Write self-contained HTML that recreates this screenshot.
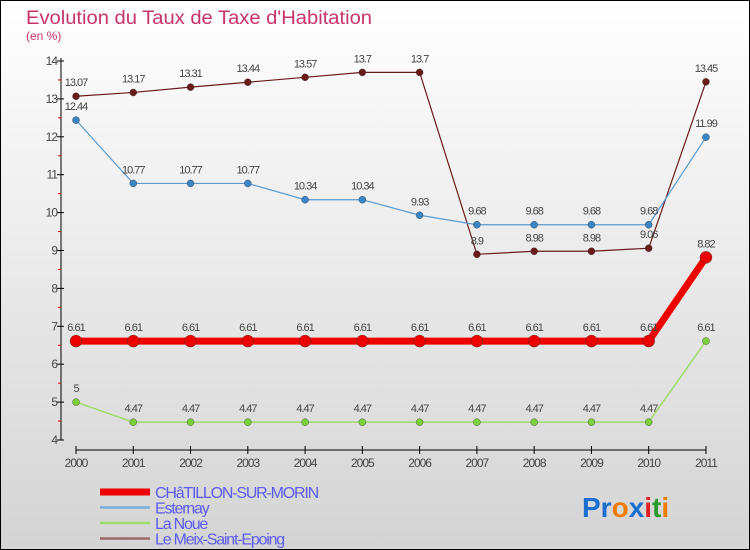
<!DOCTYPE html>
<html><head><meta charset="utf-8"><style>
body{margin:0}
svg{display:block;font-family:"Liberation Sans",sans-serif}
</style></head><body>
<svg id="c" width="750" height="550">
<defs><linearGradient id="bg" x1="0" y1="0" x2="0" y2="1"><stop offset="0" stop-color="#ffffff"/><stop offset="1" stop-color="#d4d4d4"/></linearGradient></defs>
<rect x="0.5" y="0.5" width="749" height="549" fill="url(#bg)" stroke="#000"/>
<text x="26" y="24" font-size="19" fill="#c8336a" textLength="346" lengthAdjust="spacingAndGlyphs">Evolution du Taux de Taxe d'Habitation</text>
<text x="26" y="40" font-size="12" fill="#c8336a">(en %)</text>
<g id="axes"></g><g id="series"></g><g id="legend"></g>
<text x="582" y="517" font-size="28" font-weight="bold"><tspan fill="#1a6fd0">Pr</tspan><tspan fill="#f07d00">o</tspan><tspan fill="#1a6fd0">x</tspan><tspan fill="#e02020">i</tspan><tspan fill="#2a9a2a">t</tspan><tspan fill="#f07d00">i</tspan></text>
</svg>
<script>
const years=[2000,2001,2002,2003,2004,2005,2006,2007,2008,2009,2010,2011];
const yTicks=[4,5,6,7,8,9,10,11,12,13,14];
const chatillon=[6.61,6.61,6.61,6.61,6.61,6.61,6.61,6.61,6.61,6.61,6.61,8.82];
const esternay=[12.44,10.77,10.77,10.77,10.34,10.34,9.93,9.68,9.68,9.68,9.68,11.99];
const laNoue=[5,4.47,4.47,4.47,4.47,4.47,4.47,4.47,4.47,4.47,4.47,6.61];
const meix=[13.07,13.17,13.31,13.44,13.57,13.7,13.7,8.9,8.98,8.98,9.06,13.45];
const names=['CHâTILLON-SUR-MORIN','Esternay','La Noue','Le Meix-Saint-Epoing'];
const NS='http://www.w3.org/2000/svg';
const X=i=>76+i*57.27, Y=v=>440-(v-4)*37.9;
function mk(t,a,p){const e=document.createElementNS(NS,t);for(const k in a)e.setAttribute(k,a[k]);(p||document.getElementById('c')).appendChild(e);return e;}
const ax=document.getElementById('axes');
const ya=mk('line',{x1:61,y1:58,x2:61,y2:440,stroke:'#000'},ax);


yTicks.forEach(v=>{mk('line',{x1:57,x2:64,y1:Y(v),y2:Y(v),stroke:'#000'},ax);
 if(v<14)mk('line',{x1:58,x2:61,y1:Y(v+0.5),y2:Y(v+0.5),stroke:'#d00'},ax);
 const t=mk('text',{x:57,y:Y(v)+4,'font-size':12,fill:'#444','text-anchor':'end','letter-spacing':'-1'},ax);t.textContent=v;
 
 });
const xa=mk('line',{x1:76,y1:450,x2:706,y2:450,stroke:'#000'},ax);


years.forEach((y,i)=>{mk('line',{x1:X(i),x2:X(i),y1:446,y2:454,stroke:'#000'},ax);
 const t=mk('text',{x:X(i),y:467,'font-size':12,fill:'#444','text-anchor':'middle','letter-spacing':'-1'},ax);t.textContent=y;
 
 });
const sg=document.getElementById('series');
const defs=[[meix,'#6b1a1a','#6b1a1a',1.2,3.5,'meix-line'],[esternay,'#5a9bd0','#3a85c8',1.2,3.5,'esternay-line'],[laNoue,'#9edc6a','#7cd13a',1.5,3.5,'la-noue-line'],[chatillon,'#ee0000','#ee0000',7,6,'chatillon-line']];
defs.forEach(([d,c,mc,w,r,n])=>{
 const p=mk('polyline',{points:d.map((v,i)=>X(i)+','+Y(v)).join(' '),fill:'none',stroke:c,'stroke-width':w},sg);
 
 
 d.forEach((v,i)=>{const m=mk('circle',{cx:X(i),cy:Y(v),r:r,fill:mc,stroke:'#333','stroke-width':0.4},sg);
  
  
  const t=mk('text',{x:X(i),y:Y(v)-10,'font-size':11,fill:'#444','text-anchor':'middle','letter-spacing':'-1'},sg);t.textContent=v;
  
  });
});
const lg=document.getElementById('legend');
const lc=['#ee0000','#7aaed8','#9edc6a','#9a6a6a'],lw=[7,2.5,2.5,2.5];
names.forEach((n,k)=>{const y=492+k*15.5;
 mk('line',{x1:100,x2:150,y1:y,y2:y,stroke:lc[k],'stroke-width':lw[k]},lg);
 const t=mk('text',{x:155,y:y+6,'font-size':16,fill:'#5b5bf0','letter-spacing':'-1.2'},lg);t.textContent=n;
 
 });
</script>
</body></html>
